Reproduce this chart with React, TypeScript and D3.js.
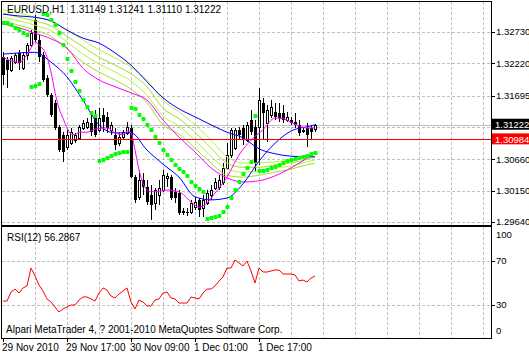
import React from "react";
import * as d3 from "d3";

const W = 529;
const H = 355;
const FONT = "'Liberation Sans Narrow', 'Liberation Sans', Arial, sans-serif";

// EURUSD H1 bars, first bar 29 Nov 2010 01:00
const opens = [
  1.3232, 1.3227, 1.3211, 1.3224, 1.3239, 1.3214, 1.3236, 1.3252, 1.3293, 1.3260,
  1.3236, 1.3198, 1.3170, 1.3158, 1.3119, 1.3106, 1.3086, 1.3092, 1.3097, 1.3101,
  1.3117, 1.3119, 1.3125, 1.3133, 1.3114, 1.3138, 1.3135, 1.3114, 1.3106, 1.3092,
  1.3102, 1.3109, 1.3117, 1.3037, 1.3005, 1.3032, 1.3021, 1.3008, 1.2995, 1.3008,
  1.3016, 1.3036, 1.3037, 1.3013, 1.3011, 1.2982, 1.2980, 1.2980, 1.2988, 1.3000,
  1.2987, 1.2995, 1.3008, 1.3019, 1.3021, 1.3029, 1.3052, 1.3073, 1.3084, 1.3114,
  1.3117, 1.3097, 1.3130, 1.3119, 1.3119, 1.3158, 1.3125, 1.3138, 1.3143, 1.3141,
  1.3141, 1.3130, 1.3130, 1.3127, 1.3122, 1.3112, 1.3117, 1.3117, 1.31149,
];
const highs = [
  1.3240, 1.3232, 1.3234, 1.3239, 1.3244, 1.3240, 1.3255, 1.3276, 1.3301, 1.3268,
  1.3240, 1.3203, 1.3174, 1.3162, 1.3122, 1.3110, 1.3114, 1.3117, 1.3109, 1.3122,
  1.3130, 1.3133, 1.3138, 1.3146, 1.3149, 1.3149, 1.3143, 1.3127, 1.3117, 1.3109,
  1.3114, 1.3127, 1.3122, 1.3040, 1.3049, 1.3044, 1.3032, 1.3024, 1.3019, 1.3032,
  1.3049, 1.3044, 1.3040, 1.3019, 1.3016, 1.2987, 1.2987, 1.3000, 1.3005, 1.3003,
  1.3008, 1.3016, 1.3024, 1.3036, 1.3040, 1.3060, 1.3092, 1.3117, 1.3117, 1.3119,
  1.3122, 1.3127, 1.3146, 1.3130, 1.3182, 1.3166, 1.3154, 1.3162, 1.3158, 1.3158,
  1.3154, 1.3143, 1.3135, 1.3141, 1.3130, 1.3119, 1.3125, 1.3122, 1.31241,
];
const lows = [
  1.3187, 1.3182, 1.3208, 1.3221, 1.3211, 1.3211, 1.3227, 1.3249, 1.3257, 1.3224,
  1.3192, 1.3167, 1.3135, 1.3114, 1.3078, 1.3062, 1.3081, 1.3089, 1.3092, 1.3097,
  1.3114, 1.3115, 1.3104, 1.3102, 1.3110, 1.3110, 1.3109, 1.3106, 1.3081, 1.3088,
  1.3097, 1.3106, 1.3036, 1.2995, 1.3000, 1.3008, 1.2992, 1.2967, 1.2984, 1.2992,
  1.3013, 1.3021, 1.3000, 1.2995, 1.2975, 1.2975, 1.2974, 1.2977, 1.2984, 1.2972,
  1.2972, 1.2992, 1.3000, 1.3016, 1.3016, 1.3024, 1.3049, 1.3068, 1.3081, 1.3097,
  1.3089, 1.3094, 1.3106, 1.3045, 1.3057, 1.3097, 1.3094, 1.3133, 1.3130, 1.3127,
  1.3125, 1.3127, 1.3122, 1.3117, 1.3104, 1.3109, 1.3086, 1.3097, 1.31110,
];
const closes = [
  1.3203, 1.3211, 1.3231, 1.3236, 1.3223, 1.3236, 1.3252, 1.3271, 1.3260, 1.3232,
  1.3195, 1.3170, 1.3138, 1.3117, 1.3081, 1.3078, 1.3106, 1.3110, 1.3106, 1.3119,
  1.3125, 1.3127, 1.3110, 1.3106, 1.3133, 1.3127, 1.3117, 1.3122, 1.3089, 1.3102,
  1.3110, 1.3119, 1.3037, 1.3000, 1.3032, 1.3021, 1.2997, 1.2992, 1.3016, 1.3019,
  1.3040, 1.3039, 1.3003, 1.3003, 1.2979, 1.2979, 1.2979, 1.2995, 1.2997, 1.2984,
  1.3000, 1.3011, 1.3016, 1.3029, 1.3032, 1.3052, 1.3073, 1.3114, 1.3114, 1.3106,
  1.3097, 1.3122, 1.3110, 1.3060, 1.3162, 1.3141, 1.3146, 1.3151, 1.3135, 1.3133,
  1.3130, 1.3135, 1.3125, 1.3122, 1.3109, 1.3114, 1.3106, 1.3110, 1.31222,
];

// Parabolic SAR, one dot per bar
const sar = [
  1.3288, 1.3288, 1.3284, 1.3280, 1.3276, 1.3271, 1.3268,
  1.3184, 1.3185, 1.3188,
  1.3302, 1.3301, 1.3293, 1.3284, 1.3271, 1.3252, 1.3229, 1.3210, 1.3192, 1.3177, 1.3162, 1.3151, 1.3141, 1.3136,
  1.3063, 1.3065, 1.3068, 1.3071, 1.3075, 1.3076, 1.3078, 1.3078,
  1.3149, 1.3148, 1.3138, 1.3132, 1.3122, 1.3114, 1.3102, 1.3092, 1.3081, 1.3073, 1.3065, 1.3057, 1.3050, 1.3045, 1.3039, 1.3029, 1.3023, 1.3018, 1.3013,
  1.2969, 1.2970, 1.2972, 1.2974, 1.2980, 1.2988, 1.3003, 1.3016, 1.3029, 1.3042, 1.3052, 1.3062,
  1.3136,
  1.3047, 1.3047, 1.3049, 1.3052, 1.3053, 1.3057, 1.3060, 1.3063, 1.3065, 1.3066, 1.3068, 1.3070, 1.3071, 1.3075, 1.3076,
];

// RSI(12), one value per bar
const rsi = [
  33.6, 33.6, 41.8, 44.5, 40.9, 45.5, 47.3, 63.6, 56.4, 48.2,
  42.7, 35.5, 32.7, 28.2, 23.6, 26.4, 28.2, 30.0, 30.0, 34.5,
  37.3, 37.3, 35.5, 33.6, 40.9, 45.5, 43.6, 38.2, 36.4, 40.0,
  42.7, 45.5, 32.7, 26.4, 34.5, 32.7, 29.1, 29.1, 34.5, 35.5,
  40.9, 41.8, 36.4, 35.5, 31.8, 31.8, 31.8, 37.3, 36.4, 35.5,
  40.9, 44.5, 44.5, 47.3, 51.8, 55.5, 63.6, 63.6, 70.9, 68.2,
  65.5, 70.0, 60.9, 50.0, 63.6, 60.0, 60.0, 60.9, 61.8, 61.8,
  58.2, 58.2, 58.2, 57.3, 51.8, 52.7, 50.9, 54.5, 56.2867,
];

// moving averages read every 4 bars
const maIdx = [0, 4, 8, 12, 16, 20, 24, 28, 32, 36, 40, 44, 48, 52, 56, 60, 64, 68, 72, 76, 78];
const blueSlow = [1.3302, 1.3299, 1.3297, 1.3291, 1.3276, 1.3263, 1.3255, 1.3239, 1.3219, 1.3192, 1.3166, 1.3148, 1.3135, 1.3122, 1.3110, 1.3101, 1.3083, 1.3075, 1.3071, 1.3070, 1.3070];
const blueFast = [1.3237, 1.3239, 1.3240, 1.3224, 1.3200, 1.3162, 1.3122, 1.3109, 1.3109, 1.3081, 1.3058, 1.3037, 1.3005, 1.3000, 1.3003, 1.3026, 1.3063, 1.3092, 1.3112, 1.3119, 1.3122];
const magentaSlow = [1.3286, 1.3280, 1.3271, 1.3262, 1.3247, 1.3214, 1.3195, 1.3184, 1.3174, 1.3162, 1.3130, 1.3102, 1.3078, 1.3052, 1.3036, 1.3029, 1.3031, 1.3039, 1.3052, 1.3068, 1.3078];
const yellow1 = [1.3309, 1.3304, 1.3297, 1.3291, 1.3276, 1.3260, 1.3244, 1.3231, 1.3216, 1.3195, 1.3162, 1.3143, 1.3122, 1.3097, 1.3070, 1.3060, 1.3060, 1.3062, 1.3065, 1.3071, 1.3076];
const yellow2 = [1.3304, 1.3297, 1.3291, 1.3283, 1.3266, 1.3249, 1.3232, 1.3219, 1.3205, 1.3184, 1.3149, 1.3132, 1.3110, 1.3084, 1.3060, 1.3053, 1.3053, 1.3057, 1.3060, 1.3066, 1.3070];
const yellow3 = [1.3297, 1.3291, 1.3284, 1.3275, 1.3257, 1.3237, 1.3221, 1.3208, 1.3193, 1.3170, 1.3136, 1.3120, 1.3097, 1.3071, 1.3050, 1.3045, 1.3047, 1.3052, 1.3055, 1.3062, 1.3065];
const yellow4 = [1.3291, 1.3284, 1.3276, 1.3266, 1.3245, 1.3224, 1.3208, 1.3195, 1.3180, 1.3158, 1.3122, 1.3107, 1.3084, 1.3060, 1.3040, 1.3037, 1.3040, 1.3045, 1.3050, 1.3057, 1.3060];

// fast magenta MA, read at its turning points
const magentaFastIdx = [0, 2, 4, 6, 7, 8, 9, 11, 12, 13, 14, 15, 16, 17, 18, 19, 21, 23, 26, 28, 30, 31, 32, 33, 34, 35, 37, 39, 41, 44, 47, 49, 51, 53, 56, 59, 62, 65, 68, 70, 73, 76, 78];
const magentaFast = [1.3232, 1.3226, 1.3224, 1.3236, 1.3247, 1.3257, 1.3252, 1.3232, 1.3208, 1.3175, 1.3149, 1.3133, 1.3117, 1.3107, 1.3106, 1.3110, 1.3110, 1.3115, 1.3117, 1.3109, 1.3106, 1.3112, 1.3109, 1.3081, 1.3049, 1.3027, 1.3013, 1.3014, 1.3016, 1.3013, 1.2997, 1.2988, 1.2995, 1.3011, 1.3037, 1.3073, 1.3097, 1.3114, 1.3133, 1.3132, 1.3123, 1.3117, 1.3117];

const priceTicks = [1.3273, 1.3222, 1.31695, 1.3118, 1.3066, 1.3015, 1.2964];
const rsiGrid = [70, 30];
const rsiLabels = [100, 70, 30, 0];
const dateTicks = [0, 16, 32, 48, 64];
const dateLabels = ["29 Nov 2010", "29 Nov 17:00", "30 Nov 09:00", "1 Dec 01:00", "1 Dec 17:00"];
const symbol = "EURUSD,H1";
const bidPrice = 1.31222;
const hLinePrice = 1.30984;

export default function App() {
  const x = d3.scaleLinear().domain([0, 8]).range([3, 35]);
  const y = d3.scaleLinear().domain([1.2964, 1.3273]).range([222, 32]);
  const yr = d3.scaleLinear().domain([0, 100]).range([338, 228]);
  const right = 491;
  const mainTop = 2, mainBottom = 225, rsiTop = 227, rsiBottom = 338;
  const vGrid = d3.range(8, 121, 8);

  const maLine = (vals: number[], idx: number[]) =>
    d3.line<number>().x((_, i) => x(idx[i])).y((v) => y(v)).curve(d3.curveMonotoneX)(vals) || "";
  const rsiPath = d3.line<number>().x((_, i) => x(i)).y((v) => yr(v))(rsi) || "";

  const last = closes.length - 1;
  const title = `${symbol}  ${opens[last].toFixed(5)} ${highs[last].toFixed(5)} ${lows[last].toFixed(5)} ${closes[last].toFixed(5)}`;

  const txt = { fontFamily: FONT, fontSize: 10, fill: "#000" } as const;
  const axisTxt = { fontFamily: FONT, fontSize: 9.5, fill: "#000" } as const;

  // the terminal hides a scale label that sits under a price box
  const labelHidden = (p: number) =>
    Math.abs(y(p) - y(bidPrice)) < 8 || Math.abs(y(p) - y(hLinePrice)) < 8;

  return (
    <svg width={W} height={H} style={{ position: "fixed", left: 0, top: 0, background: "#fff" }}>
      <defs>
        <clipPath id="mainClip">
          <rect x={2} y={mainTop} width={right - 2} height={mainBottom - mainTop} />
        </clipPath>
        <clipPath id="rsiClip">
          <rect x={2} y={rsiTop} width={right - 2} height={rsiBottom - rsiTop} />
        </clipPath>
      </defs>
      <rect width={W} height={H} fill="#fff" />

      {/* grids */}
      <g stroke="#c0c0c0" strokeDasharray="3,2" shapeRendering="crispEdges">
        {vGrid.map((i) => (
          <line key={"vm" + i} x1={x(i)} x2={x(i)} y1={mainTop} y2={mainBottom} />
        ))}
        {vGrid.map((i) => (
          <line key={"vr" + i} x1={x(i)} x2={x(i)} y1={rsiTop} y2={rsiBottom} />
        ))}
        {priceTicks.map((p) => (
          <line key={"h" + p} x1={2} x2={right} y1={Math.round(y(p))} y2={Math.round(y(p))} />
        ))}
        {rsiGrid.map((r) => (
          <line key={"hr" + r} x1={2} x2={right} y1={Math.round(yr(r))} y2={Math.round(yr(r))} />
        ))}
      </g>

      <g clipPath="url(#mainClip)">
        {/* bid line */}
        <line x1={2} x2={right} y1={Math.round(y(bidPrice)) + 0.5} y2={Math.round(y(bidPrice)) + 0.5} stroke="#c0c0c0" />

        {/* candles */}
        <g shapeRendering="crispEdges">
          {closes.map((c, i) => {
            const cx = Math.round(x(i));
            const o = opens[i];
            const up = c >= o;
            const top = Math.round(y(Math.max(o, c)));
            const bot = Math.round(y(Math.min(o, c)));
            return (
              <g key={i}>
                <line x1={cx + 0.5} x2={cx + 0.5} y1={Math.round(y(highs[i]))} y2={Math.round(y(lows[i]))} stroke="#000" />
                {up ? (
                  <rect x={cx - 1 + 0.5} y={top + 0.5} width={2} height={Math.max(bot - top, 1)} fill="#fff" stroke="#000" />
                ) : (
                  <rect x={cx - 1} y={top} width={3} height={Math.max(bot - top, 1)} fill="#000" />
                )}
              </g>
            );
          })}
        </g>

        {/* moving averages */}
        <g fill="none" strokeWidth={1}>
          <path d={maLine(yellow1, maIdx)} stroke="#b4f53c" />
          <path d={maLine(yellow2, maIdx)} stroke="#9ee02a" />
          <path d={maLine(yellow3, maIdx)} stroke="#b4f53c" />
          <path d={maLine(yellow4, maIdx)} stroke="#9ee02a" />
          <path d={maLine(magentaSlow, maIdx)} stroke="#ff00ff" />
          <path d={maLine(blueSlow, maIdx)} stroke="#0000ff" />
          <path d={maLine(blueFast, maIdx)} stroke="#0000ff" />
          <path d={maLine(magentaFast, magentaFastIdx)} stroke="#ff00ff" />
        </g>

        {/* parabolic SAR */}
        {sar.map((s, i) => (
          <rect key={"s" + i} x={Math.round(x(i)) - 1.5} y={Math.round(y(s)) - 2} width={4} height={4} rx={1} fill="#00ff00" />
        ))}

        {/* horizontal line object */}
        <line x1={2} x2={right} y1={Math.round(y(hLinePrice)) + 0.5} y2={Math.round(y(hLinePrice)) + 0.5} stroke="#ff0000" />
      </g>

      {/* RSI */}
      <g clipPath="url(#rsiClip)">
        <path d={rsiPath} fill="none" stroke="#ff0000" strokeWidth={1} />
      </g>

      {/* frames */}
      <g fill="none" stroke="#000" shapeRendering="crispEdges">
        <rect x={1.5} y={1.5} width={right - 1.5} height={mainBottom - 1.5} />
        <rect x={1.5} y={rsiTop - 0.5} width={right - 1.5} height={rsiBottom - rsiTop + 0.5} />
      </g>

      {/* price axis */}
      {priceTicks.map((p) => (
        <g key={"pl" + p}>
          <line x1={right} x2={right + 4} y1={Math.round(y(p)) + 0.5} y2={Math.round(y(p)) + 0.5} stroke="#000" />
          {!labelHidden(p) && (
            <text x={right + 5} y={y(p)} dy="0.35em" {...axisTxt}>{p.toFixed(5)}</text>
          )}
        </g>
      ))}
      <rect x={right + 1} y={y(bidPrice) - 6} width={W - right} height={11} fill="#000" />
      <text x={right + 4} y={y(bidPrice)} dy="0.35em" {...axisTxt} fill="#fff">{bidPrice.toFixed(5)}</text>
      <rect x={right + 1} y={y(hLinePrice) - 6} width={W - right} height={11} fill="#ff0000" />
      <text x={right + 4} y={y(hLinePrice)} dy="0.35em" {...axisTxt} fill="#fff">{hLinePrice.toFixed(5)}</text>

      {/* rsi axis */}
      {rsiGrid.map((r) => (
        <line key={"rt" + r} x1={right} x2={right + 4} y1={Math.round(yr(r)) + 0.5} y2={Math.round(yr(r)) + 0.5} stroke="#000" />
      ))}
      {rsiLabels.map((r) => (
        <text key={"rl" + r} x={right + 5} y={r === 100 ? yr(r) + 7 : r === 0 ? yr(r) - 7 : yr(r)} dy="0.35em" {...axisTxt}>
          {r}
        </text>
      ))}

      {/* time axis */}
      {dateTicks.map((t, k) => (
        <g key={"d" + t}>
          <line x1={Math.round(x(t)) + 0.5} x2={Math.round(x(t)) + 0.5} y1={rsiBottom} y2={rsiBottom + 4} stroke="#000" />
          <text x={x(t) - 1} y={351} {...txt}>{dateLabels[k]}</text>
        </g>
      ))}

      {/* captions */}
      <text x={7} y={13} {...txt} style={{ whiteSpace: "pre" }}>{title}</text>
      <text x={7} y={241} {...txt}>{`RSI(12) ${rsi[last].toFixed(4)}`}</text>
      <text x={6} y={333} {...txt}>Alpari MetaTrader 4, ? 2001-2010 MetaQuotes Software Corp.</text>
    </svg>
  );
}
